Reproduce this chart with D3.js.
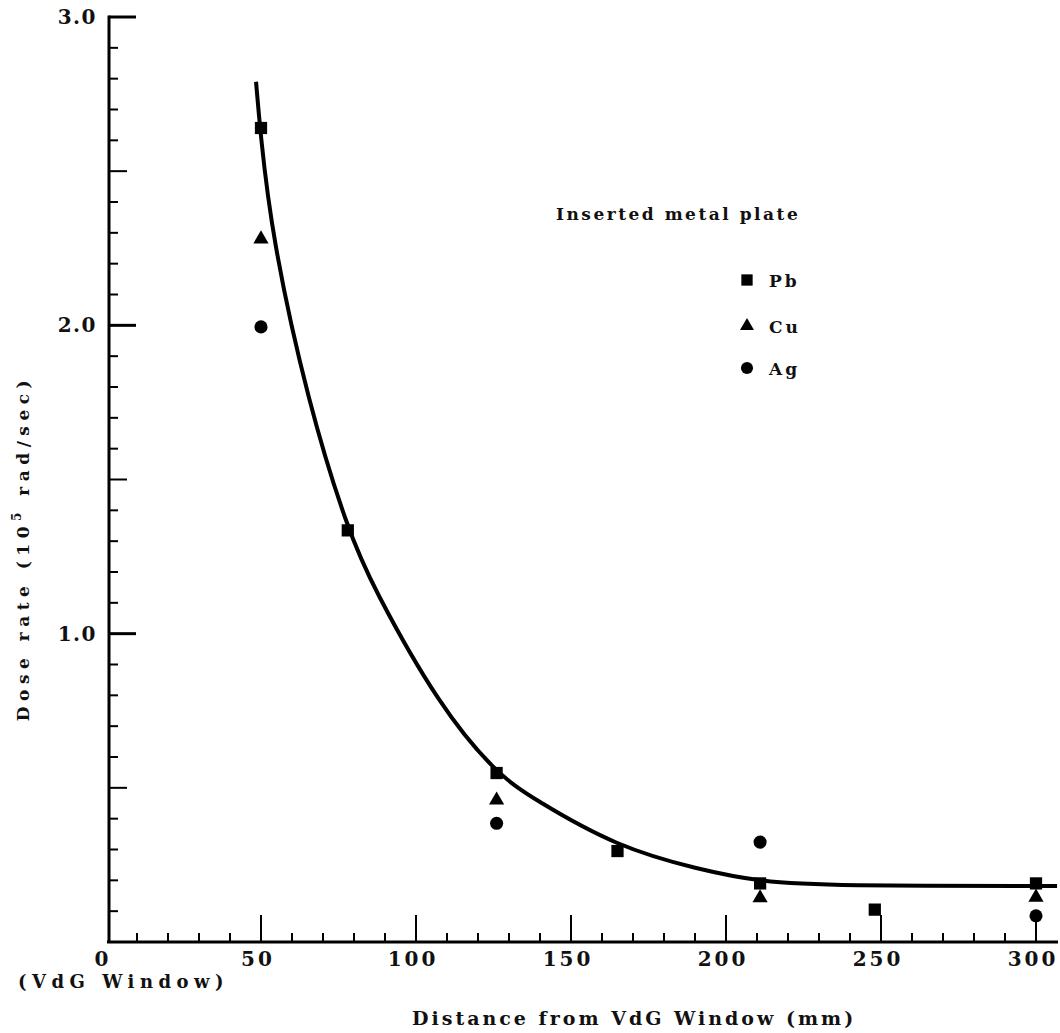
<!DOCTYPE html>
<html>
<head>
<meta charset="utf-8">
<script src="https://cdn.jsdelivr.net/npm/d3@7"></script>
<style>
  body { margin: 0; background: #fff; }
  svg { display: block; }
</style>
</head>
<body>
<div id="chart"></div>
<script>
// distances (mm) and dose rates (10^5 rad/sec)
const pbDist = [50, 78, 126, 165, 211, 248, 300];
const pbDose = [2.64, 1.335, 0.548, 0.295, 0.19, 0.105, 0.19];
const cuDist = [50, 126, 211, 300];
const cuDose = [2.28, 0.46, 0.143, 0.145];
const agDist = [50, 126, 211, 300];
const agDose = [1.995, 0.385, 0.324, 0.085];

// hand-drawn fit curve
const curveDist = [48.4, 49.7, 53.5, 65.2, 78.1, 86.1, 107.7, 126.1, 137.7, 164.8, 191.6, 211, 234.5, 306.8];
const curveDose = [2.79, 2.634, 2.287, 1.748, 1.333, 1.151, 0.762, 0.545, 0.465, 0.308, 0.234, 0.195, 0.182, 0.182];

const xTickValues = [0, 50, 100, 150, 200, 250, 300];
const xTickLabels = ['0', '50', '100', '150', '200', '250', '300'];
const yTickValues = [1, 2, 3];
const yTickLabels = ['1.0', '2.0', '3.0'];

const legendNames = ['Pb', 'Cu', 'Ag'];

const width = 1060;
const height = 1033;
const serif = 'DejaVu Serif';

const x = d3.scaleLinear().domain([0, 300]).range([106, 1036]);
const y = d3.scaleLinear().domain([0, 3]).range([942, 17]);

const svg = d3.select('#chart')
  .append('svg')
  .attr('width', width)
  .attr('height', height);

function label(sel, size, spacing) {
  return sel
    .attr('font-family', serif)
    .attr('font-weight', 'bold')
    .attr('fill', '#111')
    .style('font-size', size + 'px')
    .style('letter-spacing', spacing + 'px');
}

// y axis: line, minor ticks every 0.1, longer at .5, long at whole numbers
const yAxisX = 109;
svg.append('line')
  .attr('x1', yAxisX).attr('x2', yAxisX)
  .attr('y1', y(0) + 1).attr('y2', y(3) - 1.5)
  .attr('stroke', '#000').attr('stroke-width', 3);

const yMinor = d3.range(1, 30).map(d => d / 10);
svg.selectAll('.y-tick')
  .data(yMinor.concat([3])).enter()
  .append('line')
  .attr('class', 'y-tick')
  .attr('x1', yAxisX)
  .attr('x2', d => {
    const r = Math.round(d * 10);
    if (r % 10 === 0) return yAxisX + 27;
    if (r % 5 === 0) return yAxisX + 18;
    return yAxisX + 9;
  })
  .attr('y1', d => y(d)).attr('y2', d => y(d))
  .attr('stroke', '#000')
  .attr('stroke-width', d => Math.round(d * 10) % 10 === 0 ? 3 : 2);

svg.selectAll('.y-label')
  .data(yTickValues).enter()
  .append('text')
  .attr('class', 'y-label')
  .attr('x', 97)
  .attr('y', d => y(d) + 7)
  .attr('text-anchor', 'end')
  .call(label, 20, 1.5)
  .text((d, i) => yTickLabels[i]);

// x axis
const xAxisY = y(0);
svg.append('line')
  .attr('x1', yAxisX - 2).attr('x2', 1058)
  .attr('y1', xAxisY).attr('y2', xAxisY)
  .attr('stroke', '#000').attr('stroke-width', 3);

const xMinor = d3.range(10, 301, 10);
svg.selectAll('.x-tick')
  .data(xMinor).enter()
  .append('line')
  .attr('class', 'x-tick')
  .attr('x1', d => x(d)).attr('x2', d => x(d))
  .attr('y1', xAxisY)
  .attr('y2', d => d % 50 === 0 ? xAxisY - 27 : xAxisY - 9)
  .attr('stroke', '#000')
  .attr('stroke-width', 2);

svg.selectAll('.x-label')
  .data(xTickValues).enter()
  .append('text')
  .attr('class', 'x-label')
  .attr('x', d => x(d) - 3)
  .attr('y', 966)
  .attr('text-anchor', 'middle')
  .call(label, 20, 3)
  .text((d, i) => xTickLabels[i]);

svg.append('text')
  .attr('x', 18)
  .attr('y', 988)
  .call(label, 18, 5.5)
  .text('(VdG Window)');

svg.append('text')
  .attr('x', 412)
  .attr('y', 1025)
  .call(label, 19, 3)
  .text('Distance from VdG Window (mm)');

// y axis title
const yTitle = svg.append('text')
  .attr('transform', 'translate(29,548) rotate(-90)')
  .attr('text-anchor', 'middle')
  .call(label, 17, 5.5);
yTitle.append('tspan').text('Dose rate (10');
yTitle.append('tspan').attr('dy', -8).style('font-size', '12px').text('5');
yTitle.append('tspan').attr('dy', 8).text(' rad/sec)');

// fitted curve
const curvePts = curveDist.map((d, i) => [d, curveDose[i]]);
svg.append('path')
  .datum(curvePts)
  .attr('fill', 'none')
  .attr('stroke', '#000')
  .attr('stroke-width', 4)
  .attr('d', d3.line()
    .x(d => x(d[0]))
    .y(d => y(d[1]))
    .curve(d3.curveBasis));

// markers
const shapes = [d3.symbolSquare, d3.symbolTriangle, d3.symbolCircle];
const sizes = [150, 100, 135];
const series = [
  pbDist.map((d, i) => [d, pbDose[i]]),
  cuDist.map((d, i) => [d, cuDose[i]]),
  agDist.map((d, i) => [d, agDose[i]])
];

series.forEach((pts, s) => {
  svg.selectAll('.m' + s)
    .data(pts).enter()
    .append('path')
    .attr('class', 'm' + s)
    .attr('transform', d => `translate(${x(d[0])},${y(d[1])})`)
    .attr('d', d3.symbol().type(shapes[s]).size(sizes[s]))
    .attr('fill', '#000');
});

// legend
svg.append('text')
  .attr('x', 556)
  .attr('y', 220)
  .call(label, 17, 2.5)
  .text('Inserted metal plate');

const legendY = [280, 326, 368];
const legend = svg.selectAll('.legend')
  .data(legendNames).enter()
  .append('g')
  .attr('class', 'legend')
  .attr('transform', (d, i) => `translate(747,${legendY[i]})`);

legend.append('path')
  .attr('d', (d, i) => d3.symbol().type(shapes[i]).size(sizes[i] * 0.85)())
  .attr('fill', '#000');

legend.append('text')
  .attr('x', 22)
  .attr('y', 7)
  .call(label, 17, 3)
  .text(d => d);
</script>
</body>
</html>
